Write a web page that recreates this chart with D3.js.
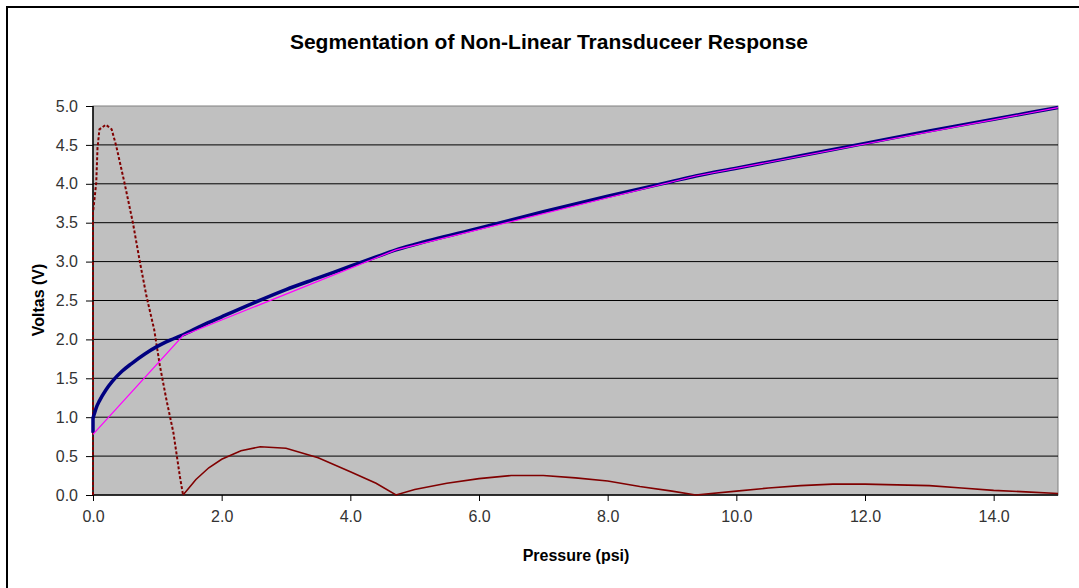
<!DOCTYPE html>
<html>
<head>
<meta charset="utf-8">
<script src="https://cdn.jsdelivr.net/npm/d3@7"></script>
<style>
  body { margin: 0; background: #fff; }
  svg { display: block; font-family: "Liberation Sans", Arial, sans-serif; }
</style>
</head>
<body>
<svg id="chart"></svg>
<script>
// pressure (psi) / volts
const sensorX = [0, 0, 0.02, 0.05, 0.1, 0.2, 0.3, 0.45, 0.6, 0.8, 1.0, 1.2, 1.4, 1.7, 2.0, 2.5, 3.0, 3.5, 4.0, 4.4, 4.71, 5.0, 6.0, 7.0, 8.0, 9.0, 9.37, 10.0, 11.0, 12.0, 13.0, 14.0, 15.0];
const sensorV = [0.80, 0.98, 1.04, 1.12, 1.21, 1.35, 1.46, 1.59, 1.69, 1.81, 1.91, 1.99, 2.06, 2.18, 2.29, 2.47, 2.64, 2.79, 2.94, 3.06, 3.15, 3.22, 3.43, 3.64, 3.84, 4.03, 4.10, 4.20, 4.36, 4.52, 4.68, 4.83, 4.98];

// straight segments between the knots
const segX = [0, 1.4, 4.71, 9.37, 15.0];
const segV = [0.78, 2.05, 3.15, 4.10, 4.98];

// error curve, first segment (drawn dotted)
const errX1 = [0, 0, 0.016, 0.05, 0.07, 0.1, 0.2, 0.29, 0.36, 0.49, 0.62, 0.73, 0.83, 0.95, 1.04, 1.14, 1.25, 1.35, 1.4];
const errV1 = [0, 3.63, 3.75, 4.01, 4.46, 4.70, 4.76, 4.70, 4.49, 4.01, 3.50, 2.99, 2.56, 2.13, 1.66, 1.23, 0.80, 0.24, 0];
// error curve, rest
const errX2 = [1.4, 1.6, 1.8, 2.0, 2.3, 2.6, 3.0, 3.5, 4.0, 4.4, 4.71, 5.0, 5.5, 6.0, 6.5, 7.0, 7.5, 8.0, 8.5, 9.0, 9.37, 10.0, 10.5, 11.0, 11.5, 12.0, 12.5, 13.0, 13.5, 14.0, 14.5, 15.0];
const errV2 = [0, 0.20, 0.35, 0.46, 0.57, 0.62, 0.60, 0.48, 0.30, 0.15, 0, 0.07, 0.15, 0.21, 0.25, 0.25, 0.22, 0.18, 0.11, 0.05, 0, 0.05, 0.09, 0.12, 0.14, 0.14, 0.13, 0.12, 0.09, 0.06, 0.04, 0.02];

const xTicks = [0, 2, 4, 6, 8, 10, 12, 14];
const yTicks = [0, 0.5, 1, 1.5, 2, 2.5, 3, 3.5, 4, 4.5, 5];

const W = 1079, H = 588;
const plot = { left: 93, right: 1058, top: 106, bottom: 495 };

const svg = d3.select("#chart").attr("width", W).attr("height", H);

// outer chart frame
svg.append("rect")
    .attr("x", 7).attr("y", 7)
    .attr("width", W + 20).attr("height", H + 20)
    .attr("fill", "#fff")
    .attr("stroke", "#000").attr("stroke-width", 2);

const x = d3.scaleLinear().domain([0, 15]).range([plot.left, plot.right]);
const y = d3.scaleLinear().domain([0, 5]).range([plot.bottom, plot.top]);

svg.append("rect")
    .attr("x", plot.left).attr("y", plot.top)
    .attr("width", plot.right - plot.left).attr("height", plot.bottom - plot.top)
    .attr("fill", "#c0c0c0")
    .attr("stroke", "#808080").attr("stroke-width", 1);

// gridlines
svg.append("g").selectAll("line")
    .data(yTicks.slice(1, -1))
    .enter()
    .append("line")
    .attr("x1", plot.left).attr("x2", plot.right)
    .attr("y1", d => y(d)).attr("y2", d => y(d))
    .attr("stroke", "#000").attr("stroke-width", 1);

const fmt = d3.format(".1f");

const yAxis = svg.append("g")
    .attr("transform", `translate(${plot.left},0)`)
    .call(d3.axisLeft(y).tickValues(yTicks).tickFormat(fmt).tickSize(7).tickPadding(8));
const xAxis = svg.append("g")
    .attr("transform", `translate(0,${plot.bottom})`)
    .call(d3.axisBottom(x).tickValues(xTicks).tickFormat(fmt).tickSize(6).tickPadding(10));

[yAxis, xAxis].forEach(a => {
    a.select(".domain").attr("stroke", "#000").attr("stroke-width", 1.5);
    a.selectAll(".tick line").attr("stroke", "#000");
    a.selectAll("text")
        .attr("font-family", "Liberation Sans, Arial, sans-serif")
        .attr("font-size", "16px")
        .attr("fill", "#333");
});
xAxis.select(".domain").attr("d", `M${plot.left},0H${plot.right}`);
yAxis.select(".domain").attr("d", `M0,${plot.top}V${plot.bottom}`);

const line = (xs, vs) => d3.line()
    .x((d, i) => x(xs[i]))
    .y(d => y(d))(vs);

const g = svg.append("g");

g.append("path")
    .attr("d", line(errX1, errV1))
    .attr("fill", "none")
    .attr("stroke", "#800000")
    .attr("stroke-width", 2)
    .attr("stroke-dasharray", "3,2");

g.append("path")
    .attr("d", line(errX2, errV2))
    .attr("fill", "none")
    .attr("stroke", "#800000")
    .attr("stroke-width", 1.6);

g.append("path")
    .attr("d", d3.line().x((d, i) => x(sensorX[i])).y(d => y(d)).curve(d3.curveMonotoneX)(sensorV))
    .attr("fill", "none")
    .attr("stroke", "#000080")
    .attr("stroke-width", 3.5);

g.append("path")
    .attr("d", line(segX, segV))
    .attr("fill", "none")
    .attr("stroke", "#ff00ff")
    .attr("stroke-width", 1.2);

// titles
svg.append("text")
    .text("Segmentation of Non-Linear Transduceer Response")
    .attr("x", 549).attr("y", 49)
    .attr("text-anchor", "middle")
    .attr("font-size", "21px")
    .attr("font-weight", "bold")
    .attr("fill", "#000");

svg.append("text")
    .text("Pressure (psi)")
    .attr("x", 576).attr("y", 561)
    .attr("text-anchor", "middle")
    .attr("font-size", "16px")
    .attr("font-weight", "bold")
    .attr("fill", "#000");

svg.append("text")
    .text("Voltas (V)")
    .attr("transform", "translate(44,300) rotate(-90)")
    .attr("text-anchor", "middle")
    .attr("font-size", "16px")
    .attr("font-weight", "bold")
    .attr("fill", "#000");
</script>
</body>
</html>
